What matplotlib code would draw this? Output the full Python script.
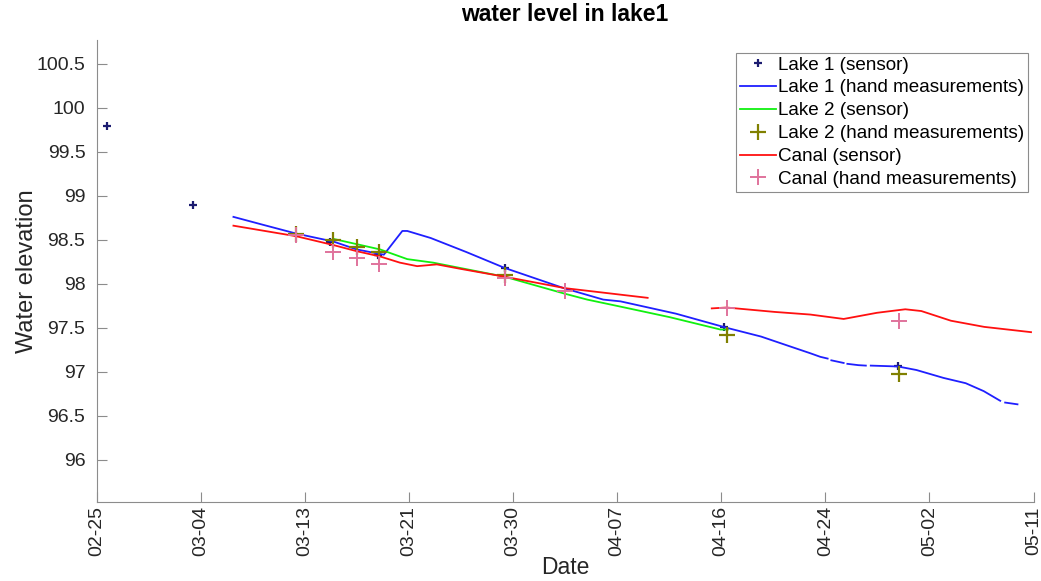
import numpy as np
import matplotlib
matplotlib.use('Agg')
import matplotlib.pyplot as plt

plt.rcParams['font.family'] = ['Liberation Sans', 'DejaVu Sans']

# x values are days since 02-25
tick_labels = ['02-25', '03-04', '03-13', '03-21', '03-30', '04-07', '04-16', '04-24', '05-02', '05-11']
x_span = 76

lake1_pts_day = [0.84, 7.84, 18.97, 22.8, 33.1, 50.9, 65.0]
lake1_pts_val = [99.79, 98.89, 98.47, 98.33, 98.18, 97.51, 97.06]

lake1_line_day = [11.1, 13.5, 16.2, 19.2, 21.1, 23.3, 24.8, 25.2, 27.1, 30.0, 33.1, 37.9, 41.1, 42.5,
                  47.0, 51.1, 53.9, 56.0, 57.9, 58.7, 59.3, np.nan, 59.6, 60.6, np.nan, 60.9, 61.8, 62.4,
                  np.nan, 62.8, 65.0, 66.5, 68.7, 70.5, 71.96, 73.3, np.nan, 73.7, 74.7]
lake1_line_val = [98.76, 98.67, 98.57, 98.48, 98.39, 98.33, 98.60, 98.60, 98.52, 98.36, 98.18, 97.95, 97.82, 97.80,
                  97.66, 97.50, 97.40, 97.30, 97.21, 97.17, 97.15, np.nan, 97.13, 97.10, np.nan, 97.09, 97.075, 97.07,
                  np.nan, 97.07, 97.06, 97.02, 96.93, 96.87, 96.78, 96.67, np.nan, 96.65, 96.63]

lake2_line_day = [19.2, 23.0, 25.2, 27.3, 33.1, 37.9, 39.8, 42.5, 46.5, 50.6, 51.2]
lake2_line_val = [98.51, 98.39, 98.28, 98.24, 98.08, 97.89, 97.82, 97.74, 97.62, 97.48, 97.48]

lake2_pts_day = [16.2, 19.2, 21.1, 22.9, 33.1, 51.1, 65.1]
lake2_pts_val = [98.57, 98.50, 98.42, 98.36, 98.10, 97.42, 96.98]

canal_line_day = [11.1, 16.2, 19.2, 21.1, 23.0, 24.6, 26.0, 27.6, 29.5, 33.1, 38.0, 44.7,
                  np.nan,
                  49.9, 51.1, 55.0, 57.9, 60.6, 63.3, 65.6, 66.9, 69.3, 72.0, 75.8]
canal_line_val = [98.66, 98.54, 98.44, 98.37, 98.31, 98.24, 98.20, 98.22, 98.17, 98.08, 97.95, 97.84,
                  np.nan,
                  97.72, 97.73, 97.68, 97.65, 97.60, 97.67, 97.71, 97.69, 97.58, 97.51, 97.45]

canal_pts_day = [16.2, 19.2, 21.1, 22.9, 33.1, 38.0, 51.1, 65.1]
canal_pts_val = [98.55, 98.36, 98.29, 98.23, 98.06, 97.92, 97.72, 97.58]


def main():
    fig = plt.figure(figsize=(10.41, 5.81), dpi=100)
    ax = fig.add_axes([0.0928, 1 - 502 / 581, 0.9, (502 - 40) / 581])

    ax.plot(lake1_pts_day, lake1_pts_val, '+', color='#1c1c70', ms=6, mew=1.6, label='Lake 1 (sensor)')
    ax.plot(lake1_line_day, lake1_line_val, '-', color='#1f1fff', lw=1.3, label='Lake 1 (hand measurements)')
    ax.plot(lake2_line_day, lake2_line_val, '-', color='#10f010', lw=1.3, label='Lake 2 (sensor)')
    ax.plot(lake2_pts_day, lake2_pts_val, '+', color='#808000', ms=11, mew=1.6, label='Lake 2 (hand measurements)')
    ax.plot(canal_line_day, canal_line_val, '-', color='#ff1010', lw=1.3, label='Canal (sensor)')
    ax.plot(canal_pts_day, canal_pts_val, '+', color='#e0739c', ms=11, mew=1.4, label='Canal (hand measurements)')

    ax.set_xlim(0, x_span)
    ax.set_ylim(95.52, 100.77)
    ax.set_xticks(np.linspace(0, x_span, len(tick_labels)))
    ax.set_xticklabels(tick_labels, rotation=90)
    ax.set_yticks(np.arange(96, 100.51, 0.5))
    ax.set_yticklabels(['96', '96.5', '97', '97.5', '98', '98.5', '99', '99.5', '100', '100.5'])

    for s in ['top', 'right']:
        ax.spines[s].set_visible(False)
    for s in ['left', 'bottom']:
        ax.spines[s].set_color('#8c8c8c')
    ax.tick_params(direction='in', length=7, color='#8c8c8c', labelcolor='#262626', labelsize=14)
    ax.tick_params(axis='y', pad=8)
    ax.tick_params(axis='x', pad=3)

    ax.set_xlabel('Date', fontsize=16.5, color='#262626')
    ax.xaxis.set_label_coords(0.5, (502 - 568) / 462, transform=ax.transAxes)
    ax.xaxis.label.set_va('center')
    ax.set_ylabel('Water elevation', fontsize=17, color='#262626')
    ax.yaxis.set_label_coords((27 - 96.6) / 936, 0.5, transform=ax.transAxes)
    ax.yaxis.label.set_va('center')
    ax.set_title('water level in lake1', fontsize=16.5, fontweight='bold', color='black', pad=14)

    leg = ax.legend(loc='upper right', bbox_to_anchor=(1.0, 0.985), fontsize=13.6, handlelength=1.9,
                    handletextpad=0.1, borderpad=0.2, labelspacing=0.3, fancybox=False, framealpha=1,
                    borderaxespad=0.3)
    leg.get_frame().set_edgecolor('#8c8c8c')
    leg.get_frame().set_linewidth(0.8)

    fig.savefig('out.png', dpi=100)


if __name__ == "__main__":
    main()
